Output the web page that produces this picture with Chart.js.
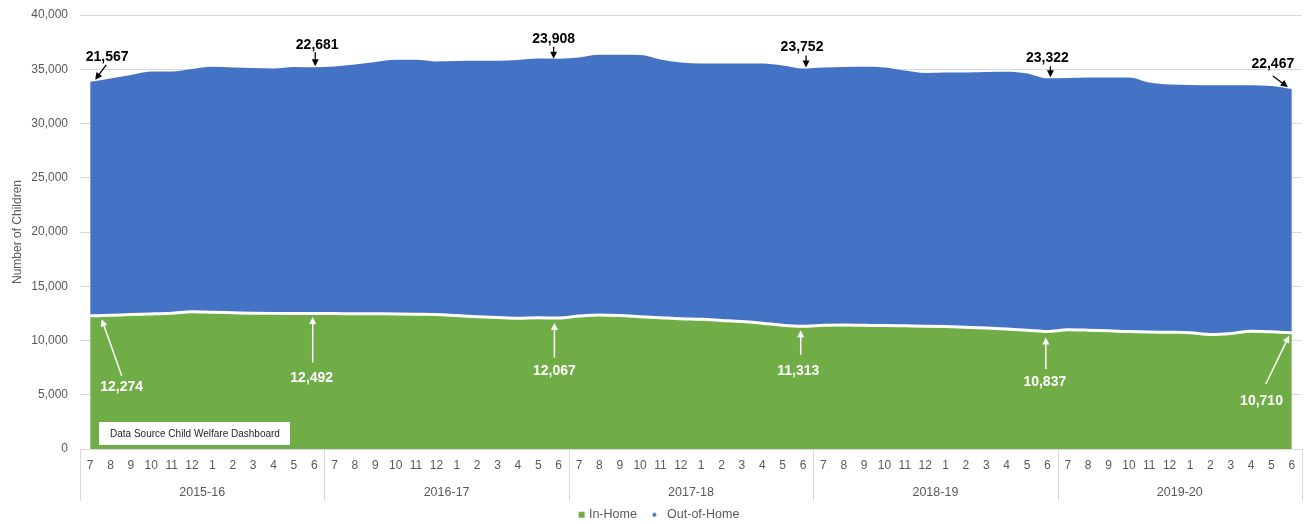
<!DOCTYPE html>
<html><head><meta charset="utf-8">
<script src="https://cdn.jsdelivr.net/npm/chart.js@4.4.1/dist/chart.umd.min.js"></script>
<style>html,body{margin:0;padding:0;background:#fff;}#wrap{width:1312px;height:524px;position:relative;}</style>
</head><body><div id="wrap"><canvas id="c" width="1312" height="524"></canvas></div>
<script>
// ---- data ----
const fiscalYears = ['2015-16','2016-17','2017-18','2018-19','2019-20'];
const monthNumbers = ['7','8','9','10','11','12','1','2','3','4','5','6'];
const categories = fiscalYears.flatMap(() => monthNumbers);

const inHome = [
  12274,12320,12400,12450,12520,12650,12600,12560,12520,12500,12490,12492,
  12480,12470,12460,12450,12430,12400,12300,12200,12120,12050,12100,12067,
  12250,12350,12300,12200,12100,12000,11950,11850,11750,11600,11400,11313,
  11400,11420,11400,11380,11350,11320,11280,11220,11150,11050,10950,10837,
  10980,10950,10900,10820,10780,10760,10720,10560,10650,10860,10800,10710
];
const outOfHome = [
  21567,21820,22064,22338,22268,22369,22622,22597,22591,22565,22714,22681,
  22770,22965,23206,23419,23439,23312,23458,23577,23657,23801,23890,23908,
  23832,23982,24032,24113,23797,23620,23577,23677,23777,23927,23942,23752,
  23757,23784,23822,23777,23530,23329,23415,23475,23591,23710,23653,23322,
  23206,23283,23333,23413,22990,22825,22819,22960,22870,22660,22647,22467
];
const yMin = 0, yMax = 40000, yStep = 5000;
const annotatedIndex = [0, 11, 23, 35, 47, 59];
const sourceNote = 'Data Source Child Welfare Dashboard';

// ---- styling ----
const FONT = "'Liberation Sans', Arial, sans-serif";
const GREY = '#595959';
const GRID = '#d9d9d9';
const BLUE = '#4472C4';
const GREEN = '#70AD47';

const fmt = v => v.toLocaleString('en-US');

function markerCanvas(kind, color) {
  const c = document.createElement('canvas');
  c.width = 32; c.height = 8;
  const g = c.getContext('2d');
  g.fillStyle = color;
  if (kind === 'square') { g.fillRect(22, 1, 6, 6); }
  else { g.beginPath(); g.arc(19.5, 4, 2, 0, Math.PI * 2); g.fill(); }
  return c;
}
const legendMarkers = [markerCanvas('square', GREEN), markerCanvas('dot', BLUE)];

function drawArrow(ctx, x0, y0, x1, y1, color, lw, head) {
  const ang = Math.atan2(y1 - y0, x1 - x0);
  ctx.save();
  ctx.strokeStyle = color; ctx.fillStyle = color; ctx.lineWidth = lw;
  ctx.beginPath();
  ctx.moveTo(x0, y0);
  ctx.lineTo(x1 - Math.cos(ang) * head * 0.8, y1 - Math.sin(ang) * head * 0.8);
  ctx.stroke();
  ctx.beginPath();
  ctx.moveTo(x1, y1);
  ctx.lineTo(x1 - head * Math.cos(ang) + head * 0.5 * Math.sin(ang), y1 - head * Math.sin(ang) - head * 0.5 * Math.cos(ang));
  ctx.lineTo(x1 - head * Math.cos(ang) - head * 0.5 * Math.sin(ang), y1 - head * Math.sin(ang) + head * 0.5 * Math.cos(ang));
  ctx.closePath();
  ctx.fill();
  ctx.restore();
}

const calloutPlugin = {
  id: 'callouts',
  afterDatasetsDraw(chart, args, opts) {
    const ctx = chart.ctx;
    opts.groups.forEach(group => {
      const meta = chart.getDatasetMeta(group.dataset);
      const values = chart.data.datasets[group.dataset].data;
      group.offsets.forEach((o, k) => {
        const idx = annotatedIndex[k];
        const p = meta.data[idx];
        drawArrow(ctx, p.x + o.tail[0], p.y + o.tail[1], p.x + o.tip[0], p.y + o.tip[1], group.color, group.lineWidth, 7);
        ctx.save();
        ctx.font = 'bold 14px ' + FONT;
        ctx.fillStyle = group.color;
        ctx.textAlign = 'center';
        ctx.textBaseline = 'middle';
        ctx.fillText(fmt(values[idx]), p.x + o.text[0], p.y + o.text[1]);
        ctx.restore();
      });
    });
  }
};

const notePlugin = {
  id: 'sourceNote',
  afterDatasetsDraw(chart) {
    const { ctx, chartArea } = chart;
    const x = chartArea.left + 19, y = chartArea.bottom - 27;
    ctx.save();
    ctx.fillStyle = '#ffffff';
    ctx.fillRect(x, y, 191, 23);
    ctx.fillStyle = '#262626';
    ctx.font = '10px ' + FONT;
    ctx.textBaseline = 'middle';
    ctx.fillText(sourceNote, x + 11, y + 12);
    ctx.restore();
  }
};

const dividerPlugin = {
  id: 'groupDividers',
  afterDraw(chart) {
    const { ctx, chartArea } = chart;
    const xs = chart.scales.x;
    const half = (xs.getPixelForValue(1) - xs.getPixelForValue(0)) / 2;
    ctx.save();
    ctx.strokeStyle = GRID; ctx.lineWidth = 1;
    for (let k = 0; k <= fiscalYears.length; k++) {
      const px = k < fiscalYears.length
        ? xs.getPixelForValue(k * monthNumbers.length) - half
        : xs.getPixelForValue(categories.length - 1) + half;
      const xx = Math.round(px) + 0.5;
      ctx.beginPath();
      ctx.moveTo(xx, chartArea.bottom);
      ctx.lineTo(xx, chartArea.bottom + 52);
      ctx.stroke();
    }
    ctx.restore();
  }
};

new Chart(document.getElementById('c'), {
  type: 'line',
  data: {
    labels: categories,
    datasets: [
      {
        label: 'In-Home', data: inHome,
        backgroundColor: GREEN, borderColor: '#ffffff', borderWidth: 3,
        fill: 'origin', pointRadius: 0, cubicInterpolationMode: 'monotone'
      },
      {
        label: 'Out-of-Home', data: outOfHome,
        backgroundColor: BLUE, borderColor: BLUE, borderWidth: 0,
        fill: '-1', pointRadius: 0, cubicInterpolationMode: 'monotone'
      }
    ]
  },
  options: {
    responsive: false,
    animation: false,
    devicePixelRatio: 1,
    layout: { padding: { top: 15, right: 10, left: 0, bottom: -7 } },
    plugins: {
      tooltip: { enabled: false },
      legend: {
        position: 'bottom',
        labels: {
          usePointStyle: true,
          pointStyleWidth: 20,
          padding: 4,
          color: GREY,
          font: { family: FONT, size: 12.5 },
          generateLabels(chart) {
            const items = Chart.defaults.plugins.legend.labels.generateLabels(chart);
            items.forEach((it, i) => { it.pointStyle = legendMarkers[i]; });
            return items;
          }
        }
      },
      callouts: {
        groups: [
          {
            dataset: 1, color: '#000000', lineWidth: 1.3,
            offsets: [
              { text: [17, -25], tail: [16, -17], tip: [5, -2] },
              { text: [3, -22], tail: [1, -15], tip: [1, -1] },
              { text: [-5, -20], tail: [-5, -12], tip: [-5, 0] },
              { text: [-1, -21], tail: [3, -13], tip: [3, -1] },
              { text: [0, -20], tail: [3, -12], tip: [3, -1] },
              { text: [-19, -25], tail: [-19, -13], tip: [-4, -2] }
            ]
          },
          {
            dataset: 0, color: '#ffffff', lineWidth: 1.5,
            offsets: [
              { text: [31.5, 71.6], tail: [31.5, 60], tip: [11.5, 3.5] },
              { text: [-2.5, 64.7], tail: [-1.5, 49], tip: [-1.5, 3.5] },
              { text: [-4.2, 52.6], tail: [-4.2, 39.6], tip: [-4.2, 5] },
              { text: [-4.7, 44.5], tail: [-2.3, 28.5], tip: [-2.3, 4] },
              { text: [-2.6, 51], tail: [-1.6, 37.6], tip: [-1.6, 6] },
              { text: [-30.3, 68.7], tail: [-26, 51.2], tip: [-2.7, 3] }
            ]
          }
        ]
      }
    },
    scales: {
      x: {
        type: 'category',
        offset: true,
        weight: 0,
        grid: { display: false, drawTicks: false },
        border: { display: true, color: GRID },
        ticks: {
          autoSkip: false, maxRotation: 0, minRotation: 0, padding: 9,
          color: GREY, font: { family: FONT, size: 12 }
        },
        afterFit(s) { s.height = 30; }
      },
      x2: {
        type: 'category',
        labels: fiscalYears,
        position: 'bottom',
        offset: true,
        weight: 1,
        grid: { display: false, drawTicks: false },
        border: { display: false },
        ticks: {
          autoSkip: false, maxRotation: 0, minRotation: 0, padding: 6,
          color: GREY, font: { family: FONT, size: 12.5 }
        },
        afterFit(s) { s.height = 25.5; }
      },
      y: {
        stacked: true,
        min: yMin, max: yMax,
        grid: { color: GRID, drawTicks: false },
        border: { display: false },
        ticks: {
          stepSize: yStep, padding: 12, color: GREY,
          font: { family: FONT, size: 12 },
          callback: v => fmt(v)
        },
        title: {
          display: true, text: 'Number of Children', color: GREY,
          font: { family: FONT, size: 12 }, padding: { top: 10, bottom: 0 }
        },
        afterFit(s) { s.width = 80; s.paddingTop = 7; s.paddingBottom = 7; }
      }
    }
  },
  plugins: [calloutPlugin, notePlugin, dividerPlugin]
});
</script>
</body></html>
